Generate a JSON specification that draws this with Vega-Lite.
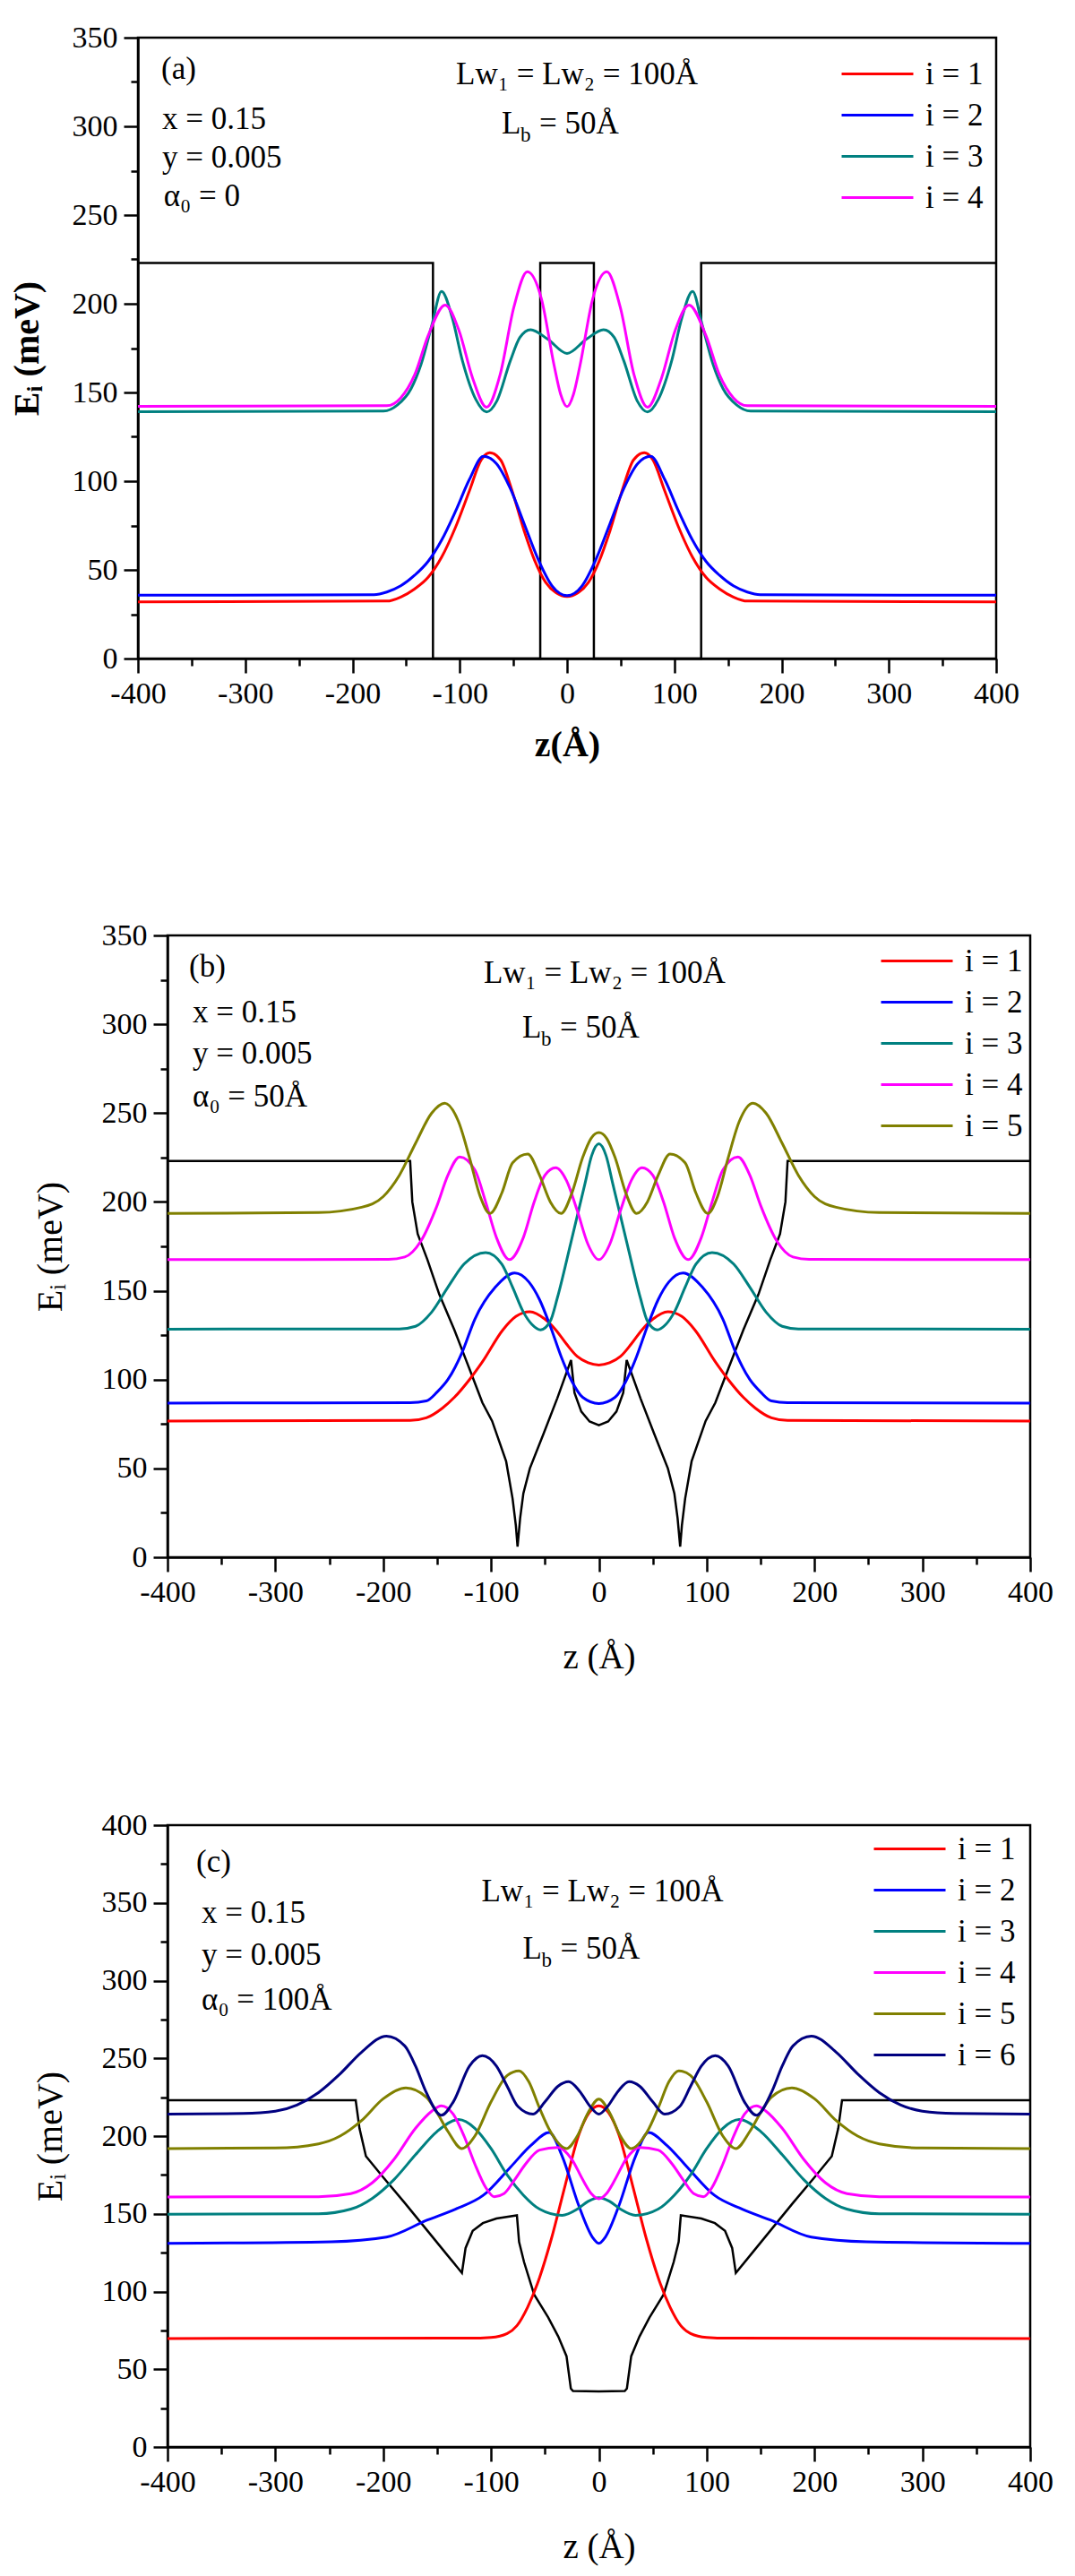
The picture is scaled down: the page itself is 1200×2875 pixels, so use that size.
{
"$schema": "https://vega.github.io/schema/vega-lite/v6.json",
"padding": {"left": 8, "top": 23, "right": 5, "bottom": 5},
"config": {
 "font": "Liberation Serif",
 "view": {"stroke": null},
 "axis": {"domainColor": "black", "domainWidth": 2.5, "tickColor": "black", "tickWidth": 2.5, "grid": false, "labelFont": "Liberation Serif", "labelFontSize": 34, "labelColor": "black", "titleFont": "Liberation Serif", "titleColor": "black", "titleFontWeight": "normal", "titleFontSize": 40, "labelOverlap": false, "labelFlush": false},
 "legend": {"title": null, "symbolType": "M-7,0H1", "symbolSize": 400, "symbolStrokeWidth": 3, "labelFontSize": 35, "labelFont": "Liberation Serif", "labelColor": "black", "labelOffset": 6, "rowPadding": 10, "padding": 0, "orient": "none"},
 "text": {"font": "Liberation Serif", "fontSize": 35, "color": "black", "align": "left", "baseline": "alphabetic"}
},
"datasets": {
 "a_pot": [{"z":-400,"E":223},{"z":-125,"E":223},{"z":-125,"E":0},{"z":-25,"E":0},{"z":-25,"E":223},{"z":25,"E":223},{"z":25,"E":0},{"z":125,"E":0},{"z":125,"E":223},{"z":400,"E":223}],
 "b_pot": [{"z":-400,"E":223},{"z":-175,"E":223},{"z":-173,"E":200},{"z":-168,"E":182},{"z":-159,"E":167.5},{"z":-148,"E":148},{"z":-134,"E":128},{"z":-120,"E":106},{"z":-108,"E":87},{"z":-99,"E":76.7},{"z":-86,"E":54},{"z":-80,"E":33},{"z":-77,"E":18},{"z":-75.4,"E":6},{"z":-73,"E":22},{"z":-70,"E":36},{"z":-64,"E":50},{"z":-51,"E":70},{"z":-38.5,"E":89.6},{"z":-25.8,"E":111},{"z":-22.6,"E":92.6},{"z":-16.3,"E":82},{"z":-8.6,"E":76.4},{"z":0,"E":74.3},{"z":8.6,"E":76.4},{"z":16.3,"E":82},{"z":22.6,"E":92.6},{"z":25.8,"E":111},{"z":38.5,"E":89.6},{"z":51,"E":70},{"z":64,"E":50},{"z":70,"E":36},{"z":73,"E":22},{"z":75.4,"E":6},{"z":77,"E":18},{"z":80,"E":33},{"z":86,"E":54},{"z":99,"E":76.7},{"z":108,"E":87},{"z":120,"E":106},{"z":134,"E":128},{"z":148,"E":148},{"z":159,"E":167.5},{"z":168,"E":182},{"z":173,"E":200},{"z":175,"E":223},{"z":400,"E":223}],
 "c_pot": [{"z":-400,"E":223},{"z":-225.5,"E":223},{"z":-222,"E":205},{"z":-216,"E":187},{"z":-200,"E":173.5},{"z":-180,"E":157},{"z":-160,"E":140},{"z":-140,"E":123},{"z":-127,"E":112},{"z":-123.6,"E":128},{"z":-117,"E":139},{"z":-107.6,"E":144},{"z":-95,"E":147},{"z":-76,"E":149},{"z":-74,"E":132},{"z":-69.4,"E":119},{"z":-60,"E":98},{"z":-47,"E":83.4},{"z":-37.6,"E":71},{"z":-30,"E":58.4},{"z":-26,"E":37.6},{"z":-24,"E":36},{"z":0,"E":35.8},{"z":24,"E":36},{"z":26,"E":37.6},{"z":30,"E":58.4},{"z":37.6,"E":71},{"z":47,"E":83.4},{"z":60,"E":98},{"z":69.4,"E":119},{"z":74,"E":132},{"z":76,"E":149},{"z":95,"E":147},{"z":107.6,"E":144},{"z":117,"E":139},{"z":123.6,"E":128},{"z":127,"E":112},{"z":140,"E":123},{"z":160,"E":140},{"z":180,"E":157},{"z":200,"E":173.5},{"z":216,"E":187},{"z":222,"E":205},{"z":225.5,"E":223},{"z":400,"E":223}],
 "a_lines": [
  {"s":"i = 1","z":-400,"E":32},{"s":"i = 1","z":-168,"E":32.4},{"s":"i = 1","z":-155,"E":34.7},{"s":"i = 1","z":-142,"E":39.3},{"s":"i = 1","z":-129.5,"E":45.8},{"s":"i = 1","z":-116.8,"E":57.3},{"s":"i = 1","z":-104,"E":74},{"s":"i = 1","z":-91,"E":94.6},{"s":"i = 1","z":-80,"E":112},{"s":"i = 1","z":-72,"E":116},{"s":"i = 1","z":-62,"E":112},{"s":"i = 1","z":-52,"E":96},{"s":"i = 1","z":-40,"E":72},{"s":"i = 1","z":-30,"E":55},{"s":"i = 1","z":-20,"E":43},{"s":"i = 1","z":-10,"E":37},{"s":"i = 1","z":0,"E":35},{"s":"i = 1","z":10,"E":37},{"s":"i = 1","z":20,"E":43},{"s":"i = 1","z":30,"E":55},{"s":"i = 1","z":40,"E":72},{"s":"i = 1","z":52,"E":96},{"s":"i = 1","z":62,"E":112},{"s":"i = 1","z":72,"E":116},{"s":"i = 1","z":80,"E":112},{"s":"i = 1","z":91,"E":94.6},{"s":"i = 1","z":104,"E":74},{"s":"i = 1","z":116.8,"E":57.3},{"s":"i = 1","z":129.5,"E":45.8},{"s":"i = 1","z":142,"E":39.3},{"s":"i = 1","z":155,"E":34.7},{"s":"i = 1","z":168,"E":32.4},{"s":"i = 1","z":400,"E":32},
  {"s":"i = 2","z":-400,"E":35.7},{"s":"i = 2","z":-180,"E":36},{"s":"i = 2","z":-168,"E":37.5},{"s":"i = 2","z":-155,"E":41},{"s":"i = 2","z":-142,"E":47},{"s":"i = 2","z":-129.5,"E":54.8},{"s":"i = 2","z":-116.8,"E":66.9},{"s":"i = 2","z":-104,"E":83},{"s":"i = 2","z":-91,"E":101},{"s":"i = 2","z":-78,"E":114},{"s":"i = 2","z":-66,"E":110},{"s":"i = 2","z":-53,"E":96},{"s":"i = 2","z":-40,"E":76},{"s":"i = 2","z":-27,"E":56},{"s":"i = 2","z":-14,"E":41},{"s":"i = 2","z":0,"E":35.5},{"s":"i = 2","z":14,"E":41},{"s":"i = 2","z":27,"E":56},{"s":"i = 2","z":40,"E":76},{"s":"i = 2","z":53,"E":96},{"s":"i = 2","z":66,"E":110},{"s":"i = 2","z":78,"E":114},{"s":"i = 2","z":91,"E":101},{"s":"i = 2","z":104,"E":83},{"s":"i = 2","z":116.8,"E":66.9},{"s":"i = 2","z":129.5,"E":54.8},{"s":"i = 2","z":142,"E":47},{"s":"i = 2","z":155,"E":41},{"s":"i = 2","z":168,"E":37.5},{"s":"i = 2","z":180,"E":36},{"s":"i = 2","z":400,"E":35.7},
  {"s":"i = 3","z":-400,"E":139.1},{"s":"i = 3","z":-171,"E":139.5},{"s":"i = 3","z":-158,"E":143},{"s":"i = 3","z":-145.5,"E":152},{"s":"i = 3","z":-136,"E":166},{"s":"i = 3","z":-126,"E":188},{"s":"i = 3","z":-117,"E":207},{"s":"i = 3","z":-107,"E":192},{"s":"i = 3","z":-97.6,"E":168},{"s":"i = 3","z":-85,"E":146},{"s":"i = 3","z":-75,"E":139},{"s":"i = 3","z":-65.6,"E":145},{"s":"i = 3","z":-52.8,"E":168},{"s":"i = 3","z":-44,"E":181},{"s":"i = 3","z":-34,"E":185.4},{"s":"i = 3","z":-18,"E":180},{"s":"i = 3","z":0,"E":172},{"s":"i = 3","z":18,"E":180},{"s":"i = 3","z":34,"E":185.4},{"s":"i = 3","z":44,"E":181},{"s":"i = 3","z":52.8,"E":168},{"s":"i = 3","z":65.6,"E":145},{"s":"i = 3","z":75,"E":139},{"s":"i = 3","z":85,"E":146},{"s":"i = 3","z":97.6,"E":168},{"s":"i = 3","z":107,"E":192},{"s":"i = 3","z":117,"E":207},{"s":"i = 3","z":126,"E":188},{"s":"i = 3","z":136,"E":166},{"s":"i = 3","z":145.5,"E":152},{"s":"i = 3","z":158,"E":143},{"s":"i = 3","z":171,"E":139.5},{"s":"i = 3","z":400,"E":139.1},
  {"s":"i = 4","z":-400,"E":142.2},{"s":"i = 4","z":-168,"E":142.5},{"s":"i = 4","z":-155,"E":147},{"s":"i = 4","z":-142,"E":160},{"s":"i = 4","z":-129.5,"E":182},{"s":"i = 4","z":-113.6,"E":199.3},{"s":"i = 4","z":-100.8,"E":185},{"s":"i = 4","z":-88,"E":158},{"s":"i = 4","z":-75,"E":141.7},{"s":"i = 4","z":-62.4,"E":160},{"s":"i = 4","z":-49.6,"E":198},{"s":"i = 4","z":-37,"E":218},{"s":"i = 4","z":-24,"E":203},{"s":"i = 4","z":-12,"E":165},{"s":"i = 4","z":-6,"E":149},{"s":"i = 4","z":0,"E":142},{"s":"i = 4","z":6,"E":149},{"s":"i = 4","z":12,"E":165},{"s":"i = 4","z":24,"E":203},{"s":"i = 4","z":37,"E":218},{"s":"i = 4","z":49.6,"E":198},{"s":"i = 4","z":62.4,"E":160},{"s":"i = 4","z":75,"E":141.7},{"s":"i = 4","z":88,"E":158},{"s":"i = 4","z":100.8,"E":185},{"s":"i = 4","z":113.6,"E":199.3},{"s":"i = 4","z":129.5,"E":182},{"s":"i = 4","z":142,"E":160},{"s":"i = 4","z":155,"E":147},{"s":"i = 4","z":168,"E":142.5},{"s":"i = 4","z":400,"E":142.2}
 ],
 "b_lines": [
  {"s":"i = 1","z":-400,"E":76.7},{"s":"i = 1","z":-175,"E":77},{"s":"i = 1","z":-160,"E":78.5},{"s":"i = 1","z":-145,"E":84},{"s":"i = 1","z":-134,"E":90},{"s":"i = 1","z":-120,"E":100},{"s":"i = 1","z":-108,"E":110},{"s":"i = 1","z":-89,"E":128},{"s":"i = 1","z":-77,"E":135.5},{"s":"i = 1","z":-64,"E":138.2},{"s":"i = 1","z":-50,"E":134},{"s":"i = 1","z":-40,"E":128},{"s":"i = 1","z":-30,"E":120},{"s":"i = 1","z":-20,"E":113},{"s":"i = 1","z":-10,"E":109.5},{"s":"i = 1","z":0,"E":108.2},{"s":"i = 1","z":10,"E":109.5},{"s":"i = 1","z":20,"E":113},{"s":"i = 1","z":30,"E":120},{"s":"i = 1","z":40,"E":128},{"s":"i = 1","z":50,"E":134},{"s":"i = 1","z":64,"E":138.2},{"s":"i = 1","z":77,"E":135.5},{"s":"i = 1","z":89,"E":128},{"s":"i = 1","z":108,"E":110},{"s":"i = 1","z":120,"E":100},{"s":"i = 1","z":134,"E":90},{"s":"i = 1","z":145,"E":84},{"s":"i = 1","z":160,"E":78.5},{"s":"i = 1","z":175,"E":77},{"s":"i = 1","z":400,"E":76.7},
  {"s":"i = 2","z":-400,"E":86.8},{"s":"i = 2","z":-175,"E":87},{"s":"i = 2","z":-160,"E":88},{"s":"i = 2","z":-150,"E":93},{"s":"i = 2","z":-140,"E":100},{"s":"i = 2","z":-127,"E":115},{"s":"i = 2","z":-115,"E":134},{"s":"i = 2","z":-96,"E":152},{"s":"i = 2","z":-78,"E":160},{"s":"i = 2","z":-65,"E":155},{"s":"i = 2","z":-55,"E":145},{"s":"i = 2","z":-45,"E":130},{"s":"i = 2","z":-35,"E":113},{"s":"i = 2","z":-25,"E":99},{"s":"i = 2","z":-15,"E":90},{"s":"i = 2","z":0,"E":86.5},{"s":"i = 2","z":15,"E":90},{"s":"i = 2","z":25,"E":99},{"s":"i = 2","z":35,"E":113},{"s":"i = 2","z":45,"E":130},{"s":"i = 2","z":55,"E":145},{"s":"i = 2","z":65,"E":155},{"s":"i = 2","z":78,"E":160},{"s":"i = 2","z":96,"E":152},{"s":"i = 2","z":115,"E":134},{"s":"i = 2","z":127,"E":115},{"s":"i = 2","z":140,"E":100},{"s":"i = 2","z":150,"E":93},{"s":"i = 2","z":160,"E":88},{"s":"i = 2","z":175,"E":87},{"s":"i = 2","z":400,"E":86.8},
  {"s":"i = 3","z":-400,"E":128.4},{"s":"i = 3","z":-185,"E":128.5},{"s":"i = 3","z":-170,"E":130},{"s":"i = 3","z":-155,"E":138},{"s":"i = 3","z":-140,"E":152},{"s":"i = 3","z":-125,"E":165},{"s":"i = 3","z":-105,"E":171.5},{"s":"i = 3","z":-90,"E":165},{"s":"i = 3","z":-80,"E":152},{"s":"i = 3","z":-70,"E":138},{"s":"i = 3","z":-62,"E":131},{"s":"i = 3","z":-54,"E":128},{"s":"i = 3","z":-45,"E":133},{"s":"i = 3","z":-38.5,"E":146},{"s":"i = 3","z":-26,"E":177},{"s":"i = 3","z":-13,"E":210},{"s":"i = 3","z":-6.7,"E":226},{"s":"i = 3","z":0,"E":232.7},{"s":"i = 3","z":6.7,"E":226},{"s":"i = 3","z":13,"E":210},{"s":"i = 3","z":26,"E":177},{"s":"i = 3","z":38.5,"E":146},{"s":"i = 3","z":45,"E":133},{"s":"i = 3","z":54,"E":128},{"s":"i = 3","z":62,"E":131},{"s":"i = 3","z":70,"E":138},{"s":"i = 3","z":80,"E":152},{"s":"i = 3","z":90,"E":165},{"s":"i = 3","z":105,"E":171.5},{"s":"i = 3","z":125,"E":165},{"s":"i = 3","z":140,"E":152},{"s":"i = 3","z":155,"E":138},{"s":"i = 3","z":170,"E":130},{"s":"i = 3","z":185,"E":128.5},{"s":"i = 3","z":400,"E":128.4},
  {"s":"i = 4","z":-400,"E":167.5},{"s":"i = 4","z":-195,"E":167.7},{"s":"i = 4","z":-180,"E":169},{"s":"i = 4","z":-165,"E":178},{"s":"i = 4","z":-150,"E":198},{"s":"i = 4","z":-140,"E":215},{"s":"i = 4","z":-129,"E":225.3},{"s":"i = 4","z":-115,"E":218},{"s":"i = 4","z":-105,"E":200},{"s":"i = 4","z":-95,"E":180},{"s":"i = 4","z":-83,"E":167.5},{"s":"i = 4","z":-70,"E":180},{"s":"i = 4","z":-60,"E":200},{"s":"i = 4","z":-50,"E":215},{"s":"i = 4","z":-40,"E":219.2},{"s":"i = 4","z":-30,"E":212},{"s":"i = 4","z":-20,"E":195},{"s":"i = 4","z":-10,"E":176},{"s":"i = 4","z":0,"E":167.5},{"s":"i = 4","z":10,"E":176},{"s":"i = 4","z":20,"E":195},{"s":"i = 4","z":30,"E":212},{"s":"i = 4","z":40,"E":219.2},{"s":"i = 4","z":50,"E":215},{"s":"i = 4","z":60,"E":200},{"s":"i = 4","z":70,"E":180},{"s":"i = 4","z":83,"E":167.5},{"s":"i = 4","z":95,"E":180},{"s":"i = 4","z":105,"E":200},{"s":"i = 4","z":115,"E":218},{"s":"i = 4","z":129,"E":225.3},{"s":"i = 4","z":140,"E":215},{"s":"i = 4","z":150,"E":198},{"s":"i = 4","z":165,"E":178},{"s":"i = 4","z":180,"E":169},{"s":"i = 4","z":195,"E":167.7},{"s":"i = 4","z":400,"E":167.5},
  {"s":"i = 5","z":-400,"E":193.5},{"s":"i = 5","z":-260,"E":194},{"s":"i = 5","z":-220,"E":197},{"s":"i = 5","z":-200,"E":203},{"s":"i = 5","z":-185,"E":215},{"s":"i = 5","z":-170,"E":233},{"s":"i = 5","z":-155,"E":250},{"s":"i = 5","z":-143,"E":255.6},{"s":"i = 5","z":-130,"E":245},{"s":"i = 5","z":-120,"E":225},{"s":"i = 5","z":-110,"E":203},{"s":"i = 5","z":-101,"E":193.5},{"s":"i = 5","z":-90,"E":205},{"s":"i = 5","z":-80,"E":222},{"s":"i = 5","z":-66,"E":227},{"s":"i = 5","z":-55,"E":215},{"s":"i = 5","z":-45,"E":200},{"s":"i = 5","z":-35,"E":193.5},{"s":"i = 5","z":-25,"E":205},{"s":"i = 5","z":-15,"E":225},{"s":"i = 5","z":-7,"E":236},{"s":"i = 5","z":0,"E":239},{"s":"i = 5","z":7,"E":236},{"s":"i = 5","z":15,"E":225},{"s":"i = 5","z":25,"E":205},{"s":"i = 5","z":35,"E":193.5},{"s":"i = 5","z":45,"E":200},{"s":"i = 5","z":55,"E":215},{"s":"i = 5","z":66,"E":227},{"s":"i = 5","z":80,"E":222},{"s":"i = 5","z":90,"E":205},{"s":"i = 5","z":101,"E":193.5},{"s":"i = 5","z":110,"E":203},{"s":"i = 5","z":120,"E":225},{"s":"i = 5","z":130,"E":245},{"s":"i = 5","z":143,"E":255.6},{"s":"i = 5","z":155,"E":250},{"s":"i = 5","z":170,"E":233},{"s":"i = 5","z":185,"E":215},{"s":"i = 5","z":200,"E":203},{"s":"i = 5","z":220,"E":197},{"s":"i = 5","z":260,"E":194},{"s":"i = 5","z":400,"E":193.5}
 ],
 "c_lines": [
  {"s":"i = 1","z":-400,"E":69.8},{"s":"i = 1","z":-120,"E":70},{"s":"i = 1","z":-100,"E":70.5},{"s":"i = 1","z":-85,"E":73},{"s":"i = 1","z":-76,"E":78},{"s":"i = 1","z":-66,"E":90},{"s":"i = 1","z":-57,"E":105},{"s":"i = 1","z":-44,"E":134},{"s":"i = 1","z":-31,"E":169},{"s":"i = 1","z":-18.5,"E":201},{"s":"i = 1","z":-9,"E":215},{"s":"i = 1","z":0,"E":219.5},{"s":"i = 1","z":9,"E":215},{"s":"i = 1","z":18.5,"E":201},{"s":"i = 1","z":31,"E":169},{"s":"i = 1","z":44,"E":134},{"s":"i = 1","z":57,"E":105},{"s":"i = 1","z":66,"E":90},{"s":"i = 1","z":76,"E":78},{"s":"i = 1","z":85,"E":73},{"s":"i = 1","z":100,"E":70.5},{"s":"i = 1","z":120,"E":70},{"s":"i = 1","z":400,"E":69.8},
  {"s":"i = 2","z":-400,"E":131},{"s":"i = 2","z":-248,"E":132},{"s":"i = 2","z":-197,"E":135},{"s":"i = 2","z":-159,"E":146},{"s":"i = 2","z":-133,"E":153},{"s":"i = 2","z":-107,"E":162},{"s":"i = 2","z":-82,"E":180},{"s":"i = 2","z":-63,"E":194},{"s":"i = 2","z":-46,"E":202.3},{"s":"i = 2","z":-34,"E":187},{"s":"i = 2","z":-18.5,"E":155},{"s":"i = 2","z":-6,"E":135},{"s":"i = 2","z":0,"E":131},{"s":"i = 2","z":6,"E":135},{"s":"i = 2","z":18.5,"E":155},{"s":"i = 2","z":34,"E":187},{"s":"i = 2","z":46,"E":202.3},{"s":"i = 2","z":63,"E":194},{"s":"i = 2","z":82,"E":180},{"s":"i = 2","z":107,"E":162},{"s":"i = 2","z":133,"E":153},{"s":"i = 2","z":159,"E":146},{"s":"i = 2","z":197,"E":135},{"s":"i = 2","z":248,"E":132},{"s":"i = 2","z":400,"E":131},
  {"s":"i = 3","z":-400,"E":149.7},{"s":"i = 3","z":-260,"E":150},{"s":"i = 3","z":-230,"E":153},{"s":"i = 3","z":-210,"E":160},{"s":"i = 3","z":-190,"E":172},{"s":"i = 3","z":-170,"E":188},{"s":"i = 3","z":-150,"E":203},{"s":"i = 3","z":-130,"E":210.6},{"s":"i = 3","z":-115,"E":205},{"s":"i = 3","z":-100,"E":192},{"s":"i = 3","z":-85,"E":175},{"s":"i = 3","z":-70,"E":162},{"s":"i = 3","z":-55,"E":153},{"s":"i = 3","z":-34,"E":149},{"s":"i = 3","z":-20,"E":153},{"s":"i = 3","z":-10,"E":158},{"s":"i = 3","z":0,"E":160.4},{"s":"i = 3","z":10,"E":158},{"s":"i = 3","z":20,"E":153},{"s":"i = 3","z":34,"E":149},{"s":"i = 3","z":55,"E":153},{"s":"i = 3","z":70,"E":162},{"s":"i = 3","z":85,"E":175},{"s":"i = 3","z":100,"E":192},{"s":"i = 3","z":115,"E":205},{"s":"i = 3","z":130,"E":210.6},{"s":"i = 3","z":150,"E":203},{"s":"i = 3","z":170,"E":188},{"s":"i = 3","z":190,"E":172},{"s":"i = 3","z":210,"E":160},{"s":"i = 3","z":230,"E":153},{"s":"i = 3","z":260,"E":150},{"s":"i = 3","z":400,"E":149.7},
  {"s":"i = 4","z":-400,"E":160.8},{"s":"i = 4","z":-260,"E":161},{"s":"i = 4","z":-230,"E":163},{"s":"i = 4","z":-210,"E":170},{"s":"i = 4","z":-190,"E":185},{"s":"i = 4","z":-170,"E":205},{"s":"i = 4","z":-155,"E":216},{"s":"i = 4","z":-146,"E":219.5},{"s":"i = 4","z":-135,"E":214},{"s":"i = 4","z":-125,"E":200},{"s":"i = 4","z":-115,"E":182},{"s":"i = 4","z":-105,"E":167},{"s":"i = 4","z":-97,"E":161},{"s":"i = 4","z":-88,"E":163},{"s":"i = 4","z":-78,"E":172},{"s":"i = 4","z":-68,"E":182},{"s":"i = 4","z":-55,"E":191},{"s":"i = 4","z":-38,"E":192.7},{"s":"i = 4","z":-25,"E":185},{"s":"i = 4","z":-15,"E":172},{"s":"i = 4","z":-7,"E":163},{"s":"i = 4","z":0,"E":159.7},{"s":"i = 4","z":7,"E":163},{"s":"i = 4","z":15,"E":172},{"s":"i = 4","z":25,"E":185},{"s":"i = 4","z":38,"E":192.7},{"s":"i = 4","z":55,"E":191},{"s":"i = 4","z":68,"E":182},{"s":"i = 4","z":78,"E":172},{"s":"i = 4","z":88,"E":163},{"s":"i = 4","z":97,"E":161},{"s":"i = 4","z":105,"E":167},{"s":"i = 4","z":115,"E":182},{"s":"i = 4","z":125,"E":200},{"s":"i = 4","z":135,"E":214},{"s":"i = 4","z":146,"E":219.5},{"s":"i = 4","z":155,"E":216},{"s":"i = 4","z":170,"E":205},{"s":"i = 4","z":190,"E":185},{"s":"i = 4","z":210,"E":170},{"s":"i = 4","z":230,"E":163},{"s":"i = 4","z":260,"E":161},{"s":"i = 4","z":400,"E":160.8},
  {"s":"i = 5","z":-400,"E":192},{"s":"i = 5","z":-300,"E":192.3},{"s":"i = 5","z":-260,"E":195},{"s":"i = 5","z":-240,"E":200},{"s":"i = 5","z":-220,"E":210},{"s":"i = 5","z":-200,"E":224},{"s":"i = 5","z":-179,"E":231},{"s":"i = 5","z":-160,"E":225},{"s":"i = 5","z":-150,"E":215},{"s":"i = 5","z":-140,"E":203},{"s":"i = 5","z":-127,"E":192},{"s":"i = 5","z":-115,"E":200},{"s":"i = 5","z":-100,"E":222},{"s":"i = 5","z":-85,"E":239},{"s":"i = 5","z":-74,"E":242},{"s":"i = 5","z":-65,"E":235},{"s":"i = 5","z":-55,"E":218},{"s":"i = 5","z":-45,"E":203},{"s":"i = 5","z":-30,"E":192},{"s":"i = 5","z":-20,"E":200},{"s":"i = 5","z":-10,"E":215},{"s":"i = 5","z":0,"E":223.8},{"s":"i = 5","z":10,"E":215},{"s":"i = 5","z":20,"E":200},{"s":"i = 5","z":30,"E":192},{"s":"i = 5","z":45,"E":203},{"s":"i = 5","z":55,"E":218},{"s":"i = 5","z":65,"E":235},{"s":"i = 5","z":74,"E":242},{"s":"i = 5","z":85,"E":239},{"s":"i = 5","z":100,"E":222},{"s":"i = 5","z":115,"E":200},{"s":"i = 5","z":127,"E":192},{"s":"i = 5","z":140,"E":203},{"s":"i = 5","z":150,"E":215},{"s":"i = 5","z":160,"E":225},{"s":"i = 5","z":179,"E":231},{"s":"i = 5","z":200,"E":224},{"s":"i = 5","z":220,"E":210},{"s":"i = 5","z":240,"E":200},{"s":"i = 5","z":260,"E":195},{"s":"i = 5","z":300,"E":192.3},{"s":"i = 5","z":400,"E":192},
  {"s":"i = 6","z":-400,"E":214.1},{"s":"i = 6","z":-330,"E":214.5},{"s":"i = 6","z":-300,"E":216},{"s":"i = 6","z":-280,"E":220},{"s":"i = 6","z":-260,"E":228},{"s":"i = 6","z":-240,"E":240},{"s":"i = 6","z":-220,"E":254},{"s":"i = 6","z":-197,"E":264.3},{"s":"i = 6","z":-180,"E":258},{"s":"i = 6","z":-170,"E":245},{"s":"i = 6","z":-160,"E":228},{"s":"i = 6","z":-146,"E":213.4},{"s":"i = 6","z":-135,"E":222},{"s":"i = 6","z":-120,"E":245},{"s":"i = 6","z":-108,"E":251.7},{"s":"i = 6","z":-95,"E":245},{"s":"i = 6","z":-85,"E":232},{"s":"i = 6","z":-75,"E":219},{"s":"i = 6","z":-61,"E":214.1},{"s":"i = 6","z":-50,"E":222},{"s":"i = 6","z":-38,"E":232},{"s":"i = 6","z":-28,"E":235},{"s":"i = 6","z":-18,"E":229},{"s":"i = 6","z":-8,"E":219},{"s":"i = 6","z":0,"E":214.1},{"s":"i = 6","z":8,"E":219},{"s":"i = 6","z":18,"E":229},{"s":"i = 6","z":28,"E":235},{"s":"i = 6","z":38,"E":232},{"s":"i = 6","z":50,"E":222},{"s":"i = 6","z":61,"E":214.1},{"s":"i = 6","z":75,"E":219},{"s":"i = 6","z":85,"E":232},{"s":"i = 6","z":95,"E":245},{"s":"i = 6","z":108,"E":251.7},{"s":"i = 6","z":120,"E":245},{"s":"i = 6","z":135,"E":222},{"s":"i = 6","z":146,"E":213.4},{"s":"i = 6","z":160,"E":228},{"s":"i = 6","z":170,"E":245},{"s":"i = 6","z":180,"E":258},{"s":"i = 6","z":197,"E":264.3},{"s":"i = 6","z":220,"E":254},{"s":"i = 6","z":240,"E":240},{"s":"i = 6","z":260,"E":228},{"s":"i = 6","z":280,"E":220},{"s":"i = 6","z":300,"E":216},{"s":"i = 6","z":330,"E":214.5},{"s":"i = 6","z":400,"E":214.1}
 ]
},
"spacing": 172,
"resolve": {"scale": {"color": "independent", "x": "independent", "y": "independent"}, "legend": {"color": "independent"}},
"vconcat": [
 {
  "width": 958, "height": 693,
  "view": {"stroke": "black", "strokeWidth": 2.5},
  "layer": [
   {"data": {"name": "a_pot"}, "mark": {"type": "line", "color": "black", "strokeWidth": 2.5},
    "encoding": {
     "x": {"field": "z", "type": "quantitative", "scale": {"domain": [-400, 400], "nice": false, "zero": false},
      "axis": {"title": "z(Å)", "titleFontWeight": "bold", "titleFontSize": 40, "titlePadding": 20, "labelPadding": 6,
       "values": [-400,-350,-300,-250,-200,-150,-100,-50,0,50,100,150,200,250,300,350,400],
       "labelExpr": "datum.value % 100 === 0 ? '' + datum.value : ''",
       "tickSize": {"condition": {"test": "datum.value % 100 === 0", "value": 16}, "value": 8}}},
     "y": {"field": "E", "type": "quantitative", "scale": {"domain": [0, 350], "nice": false},
      "axis": {"title": "Eᵢ (meV)", "titleFontWeight": "bold", "titleFontSize": 40, "titlePadding": 30, "labelPadding": 7,
       "values": [0,25,50,75,100,125,150,175,200,225,250,275,300,325,350],
       "labelExpr": "datum.value % 50 === 0 ? datum.label : ''",
       "tickSize": {"condition": {"test": "datum.value % 50 === 0", "value": 16}, "value": 8}}}}},
   {"data": {"name": "a_lines"}, "mark": {"type": "line", "strokeWidth": 3, "interpolate": "monotone"},
    "encoding": {
     "x": {"field": "z", "type": "quantitative"},
     "y": {"field": "E", "type": "quantitative"},
     "color": {"field": "s", "type": "nominal", "scale": {"domain": ["i = 1","i = 2","i = 3","i = 4"], "range": ["#FF0000","#0000FF","#008080","#FF00FF"]},
      "legend": {"orient": "none", "legendX": 838, "legendY": 23}}
    }},
   {"data": {"values": [{}]}, "mark": {"type": "text", "text": "(a)"}, "encoding": {"x": {"datum": -378.3}, "y": {"datum": 326.8}}},
   {"data": {"values": [{}]}, "mark": {"type": "text", "text": "x = 0.15"}, "encoding": {"x": {"datum": -377.5}, "y": {"datum": 298.6}}},
   {"data": {"values": [{}]}, "mark": {"type": "text", "text": "y = 0.005"}, "encoding": {"x": {"datum": -377.5}, "y": {"datum": 276.8}}},
   {"data": {"values": [{}]}, "mark": {"type": "text", "text": "α₀ = 0"}, "encoding": {"x": {"datum": -376}, "y": {"datum": 254.9}}},
   {"data": {"values": [{}]}, "mark": {"type": "text", "text": "Lw₁ = Lw₂ = 100Å", "align": "center"}, "encoding": {"x": {"datum": 9.2}, "y": {"datum": 323.5}}},
   {"data": {"values": [{}]}, "mark": {"type": "text", "text": "L"}, "encoding": {"x": {"datum": -61}, "y": {"datum": 296}}},
   {"data": {"values": [{}]}, "mark": {"type": "text", "text": "b", "dx": 21, "dy": 9, "fontSize": 23}, "encoding": {"x": {"datum": -61}, "y": {"datum": 296}}},
   {"data": {"values": [{}]}, "mark": {"type": "text", "text": "= 50Å", "dx": 42}, "encoding": {"x": {"datum": -61}, "y": {"datum": 296}}}
  ]
 },
 {
  "spacing": 147,
  "resolve": {"scale": {"color": "independent", "x": "independent", "y": "independent"}, "legend": {"color": "independent"}},
  "vconcat": [
   {"spacing": 20, "bounds": "flush",
    "resolve": {"scale": {"color": "independent", "x": "independent", "y": "independent"}, "legend": {"color": "independent"}},
    "hconcat": [
    {"width": 13, "height": 694, "data": {"values": [{}]}, "mark": {"type": "text", "text": ""}},
    {
     "width": 963, "height": 694,
     "view": {"stroke": "black", "strokeWidth": 2.5},
     "layer": [
      {"data": {"name": "b_pot"}, "mark": {"type": "line", "color": "black", "strokeWidth": 2.5},
       "encoding": {
        "x": {"field": "z", "type": "quantitative", "scale": {"domain": [-400, 400], "nice": false, "zero": false},
         "axis": {"title": "z (Å)", "titleFontSize": 39, "titlePadding": 36, "labelPadding": 6,
          "values": [-400,-350,-300,-250,-200,-150,-100,-50,0,50,100,150,200,250,300,350,400],
          "labelExpr": "datum.value % 100 === 0 ? '' + datum.value : ''",
          "tickSize": {"condition": {"test": "datum.value % 100 === 0", "value": 16}, "value": 8}}},
        "y": {"field": "E", "type": "quantitative", "scale": {"domain": [0, 350], "nice": false},
         "axis": {"title": "Eᵢ (meV)", "titleFontSize": 40, "titlePadding": 37, "labelPadding": 7,
          "values": [0,25,50,75,100,125,150,175,200,225,250,275,300,325,350],
          "labelExpr": "datum.value % 50 === 0 ? datum.label : ''",
          "tickSize": {"condition": {"test": "datum.value % 50 === 0", "value": 16}, "value": 8}}}}},
      {"data": {"name": "b_lines"}, "mark": {"type": "line", "strokeWidth": 3, "interpolate": "monotone"},
       "encoding": {
        "x": {"field": "z", "type": "quantitative"},
        "y": {"field": "E", "type": "quantitative"},
        "color": {"field": "s", "type": "nominal", "scale": {"domain": ["i = 1","i = 2","i = 3","i = 4","i = 5"], "range": ["#FF0000","#0000FF","#008080","#FF00FF","#808000"]},
         "legend": {"orient": "none", "legendX": 849, "legendY": 11}}
       }},
      {"data": {"values": [{}]}, "mark": {"type": "text", "text": "(b)"}, "encoding": {"x": {"datum": -380}, "y": {"datum": 326.8}}},
      {"data": {"values": [{}]}, "mark": {"type": "text", "text": "x = 0.15"}, "encoding": {"x": {"datum": -376.7}, "y": {"datum": 301}}},
      {"data": {"values": [{}]}, "mark": {"type": "text", "text": "y = 0.005"}, "encoding": {"x": {"datum": -376.7}, "y": {"datum": 278.1}}},
      {"data": {"values": [{}]}, "mark": {"type": "text", "text": "α₀ = 50Å"}, "encoding": {"x": {"datum": -376.7}, "y": {"datum": 253.7}}},
      {"data": {"values": [{}]}, "mark": {"type": "text", "text": "Lw₁ = Lw₂ = 100Å", "align": "center"}, "encoding": {"x": {"datum": 5.3}, "y": {"datum": 323.2}}},
      {"data": {"values": [{}]}, "mark": {"type": "text", "text": "L"}, "encoding": {"x": {"datum": -71.1}, "y": {"datum": 292.7}}},
      {"data": {"values": [{}]}, "mark": {"type": "text", "text": "b", "dx": 21, "dy": 9, "fontSize": 23}, "encoding": {"x": {"datum": -71.1}, "y": {"datum": 292.7}}},
      {"data": {"values": [{}]}, "mark": {"type": "text", "text": "= 50Å", "dx": 42}, "encoding": {"x": {"datum": -71.1}, "y": {"datum": 292.7}}}
     ]
    }]
   },
   {"spacing": 20, "bounds": "flush",
    "resolve": {"scale": {"color": "independent", "x": "independent", "y": "independent"}, "legend": {"color": "independent"}},
    "hconcat": [
    {"width": 13, "height": 694, "data": {"values": [{}]}, "mark": {"type": "text", "text": ""}},
    {
     "width": 963, "height": 694,
     "view": {"stroke": "black", "strokeWidth": 2.5},
     "layer": [
      {"data": {"name": "c_pot"}, "mark": {"type": "line", "color": "black", "strokeWidth": 2.5},
       "encoding": {
        "x": {"field": "z", "type": "quantitative", "scale": {"domain": [-400, 400], "nice": false, "zero": false},
         "axis": {"title": "z (Å)", "titleFontSize": 39, "titlePadding": 36, "labelPadding": 6,
          "values": [-400,-350,-300,-250,-200,-150,-100,-50,0,50,100,150,200,250,300,350,400],
          "labelExpr": "datum.value % 100 === 0 ? '' + datum.value : ''",
          "tickSize": {"condition": {"test": "datum.value % 100 === 0", "value": 16}, "value": 8}}},
        "y": {"field": "E", "type": "quantitative", "scale": {"domain": [0, 400], "nice": false},
         "axis": {"title": "Eᵢ (meV)", "titleFontSize": 40, "titlePadding": 37, "labelPadding": 7,
          "values": [0,25,50,75,100,125,150,175,200,225,250,275,300,325,350,375,400],
          "labelExpr": "datum.value % 50 === 0 ? datum.label : ''",
          "tickSize": {"condition": {"test": "datum.value % 50 === 0", "value": 16}, "value": 8}}}}},
      {"data": {"name": "c_lines"}, "mark": {"type": "line", "strokeWidth": 3, "interpolate": "monotone"},
       "encoding": {
        "x": {"field": "z", "type": "quantitative"},
        "y": {"field": "E", "type": "quantitative"},
        "color": {"field": "s", "type": "nominal", "scale": {"domain": ["i = 1","i = 2","i = 3","i = 4","i = 5","i = 6"], "range": ["#FF0000","#0000FF","#008080","#FF00FF","#808000","#000080"]},
         "legend": {"orient": "none", "legendX": 841, "legendY": 9}}
       }},
      {"data": {"values": [{}]}, "mark": {"type": "text", "text": "(c)"}, "encoding": {"x": {"datum": -373.4}, "y": {"datum": 370.3}}},
      {"data": {"values": [{}]}, "mark": {"type": "text", "text": "x = 0.15"}, "encoding": {"x": {"datum": -368.4}, "y": {"datum": 337.3}}},
      {"data": {"values": [{}]}, "mark": {"type": "text", "text": "y = 0.005"}, "encoding": {"x": {"datum": -368.4}, "y": {"datum": 310.1}}},
      {"data": {"values": [{}]}, "mark": {"type": "text", "text": "α₀ = 100Å"}, "encoding": {"x": {"datum": -368.4}, "y": {"datum": 281.3}}},
      {"data": {"values": [{}]}, "mark": {"type": "text", "text": "Lw₁ = Lw₂ = 100Å", "align": "center"}, "encoding": {"x": {"datum": 3.3}, "y": {"datum": 351}}},
      {"data": {"values": [{}]}, "mark": {"type": "text", "text": "L"}, "encoding": {"x": {"datum": -70.7}, "y": {"datum": 314.4}}},
      {"data": {"values": [{}]}, "mark": {"type": "text", "text": "b", "dx": 21, "dy": 9, "fontSize": 23}, "encoding": {"x": {"datum": -70.7}, "y": {"datum": 314.4}}},
      {"data": {"values": [{}]}, "mark": {"type": "text", "text": "= 50Å", "dx": 42}, "encoding": {"x": {"datum": -70.7}, "y": {"datum": 314.4}}}
     ]
    }]
   }
  ]
 }
]
}
